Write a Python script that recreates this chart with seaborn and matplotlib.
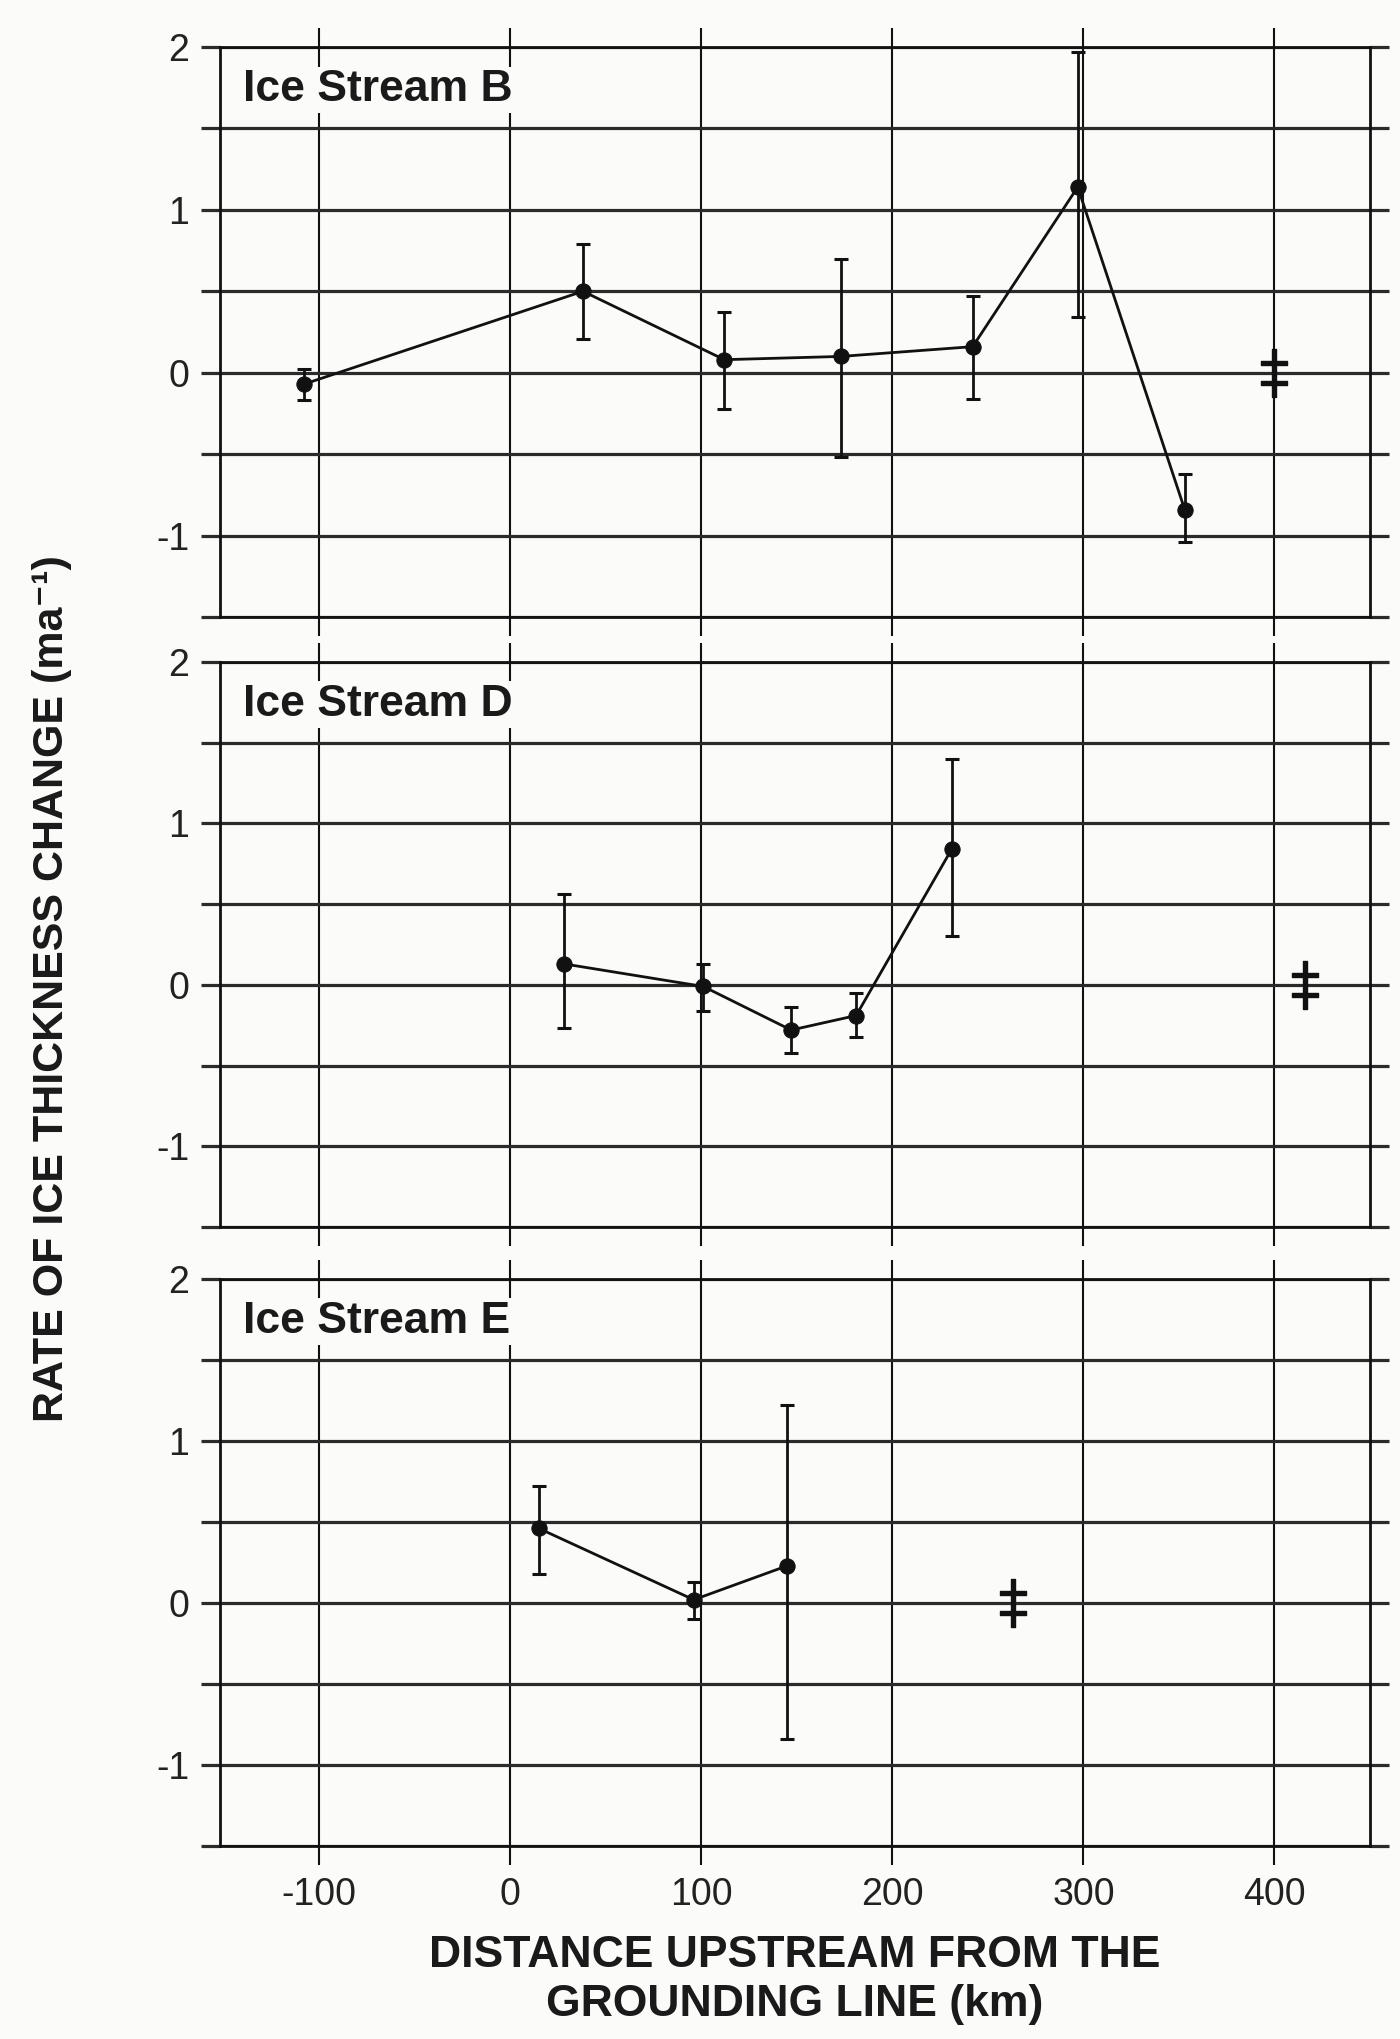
import matplotlib
matplotlib.use("Agg")
import matplotlib.pyplot as plt
import numpy as np
import seaborn as sns
from matplotlib.ticker import FuncFormatter, MultipleLocator

sns.set_theme(style="white")
plt.rcParams["font.family"] = ["Liberation Sans", "DejaVu Sans"]
plt.rcParams["axes.unicode_minus"] = False

# distance upstream of grounding line (km), rate (m/a), error bar limits
b_km = [-108, 38, 112, 173, 242, 297, 353]
b_rate = [-0.07, 0.50, 0.08, 0.10, 0.16, 1.14, -0.84]
b_lo = [-0.17, 0.21, -0.22, -0.52, -0.16, 0.34, -1.04]
b_hi = [0.02, 0.79, 0.37, 0.70, 0.47, 1.97, -0.62]

d_km = [28, 101, 147, 181, 231]
d_rate = [0.13, -0.01, -0.28, -0.19, 0.84]
d_lo = [-0.27, -0.16, -0.42, -0.32, 0.30]
d_hi = [0.56, 0.13, -0.14, -0.05, 1.40]

e_km = [15, 96, 145]
e_rate = [0.46, 0.02, 0.23]
e_lo = [0.18, -0.10, -0.84]
e_hi = [0.72, 0.13, 1.22]

# double-dagger marks for each stream
dag_km = [400, 416, 263]
dag_rate = [0.0, 0.0, 0.0]

streams = ["Ice Stream B", "Ice Stream D", "Ice Stream E"]
x_ticks = [-100, 0, 100, 200, 300, 400]

panels = [
    (streams[0], b_km, b_rate, b_lo, b_hi),
    (streams[1], d_km, d_rate, d_lo, d_hi),
    (streams[2], e_km, e_rate, e_lo, e_hi),
]

W, H = 1400, 2039
fig = plt.figure(figsize=(W / 100, H / 100), dpi=100)
fig.patch.set_facecolor("#fbfbf9")

boxes = [(47, 617), (662, 1227), (1279, 1846)]
left_px, right_px = 220, 1370

axes = []
for i, (name, km, rate, lo, hi) in enumerate(panels):
    top, bot = boxes[i]
    ax = fig.add_axes([left_px / W, 1 - bot / H, (right_px - left_px) / W, (bot - top) / H])
    ax.set_facecolor("#fbfbf9")
    ax.set_xlim(-152, 450)
    ax.set_ylim(-1.5, 2.0)
    ax.yaxis.set_major_locator(MultipleLocator(0.5))
    ax.yaxis.set_major_formatter(FuncFormatter(lambda v, p: f"{v:.0f}" if abs(v - round(v)) < 1e-6 else ""))
    ax.set_xticks(x_ticks)
    ax.grid(axis="y", color="#2b2b2b", linewidth=2.3)
    ax.grid(axis="x", color="#111111", linewidth=1.5)
    ax.set_axisbelow(True)
    for s in ax.spines.values():
        s.set_color("#111111")
        s.set_linewidth(2.0)
    ax.tick_params(axis="y", left=True, right=True, direction="out", length=14, width=2.3,
                   color="#2b2b2b", labelsize=27, pad=8, labelcolor="#222222")
    ax.tick_params(axis="x", top=True, bottom=True, direction="out", length=14, width=1.5,
                   color="#111111", labelsize=27, pad=8, labelcolor="#222222")
    if i < 2:
        ax.set_xticklabels([])

    lo_err = np.array(rate) - np.array(lo)
    hi_err = np.array(hi) - np.array(rate)
    ax.errorbar(km, rate, yerr=[lo_err, hi_err], fmt="none", ecolor="#111111",
                elinewidth=2.0, capsize=5, capthick=2.2, zorder=3)
    sns.lineplot(x=km, y=rate, ax=ax, color="#111111", linewidth=2.0, marker="o",
                 markersize=11, markeredgecolor="#111111", sort=False, zorder=4)
    ax.plot(dag_km[i], dag_rate[i], linestyle="none", marker=r"$\ddagger$",
            markersize=34, color="#111111", zorder=4)

    ax.text(0.02, 0.925, name, transform=ax.transAxes, fontsize=32, fontweight="bold",
            color="#1a1a1a", va="center", ha="left",
            bbox=dict(facecolor="#fbfbf9", edgecolor="none", pad=2))
    ax.set_xlabel("")
    ax.set_ylabel("")
    axes.append(ax)

axes[-1].set_xlabel("DISTANCE UPSTREAM FROM THE\nGROUNDING LINE (km)", fontsize=32,
                    fontweight="bold", color="#1a1a1a", labelpad=16, linespacing=1.25)

fig.text(0.037, 0.515, "RATE OF ICE THICKNESS CHANGE (ma\u207b\u00b9)", rotation=90,
         fontsize=31, fontweight="bold", color="#1a1a1a", ha="center", va="center")

fig.savefig("out.png", dpi=100, facecolor=fig.get_facecolor())
